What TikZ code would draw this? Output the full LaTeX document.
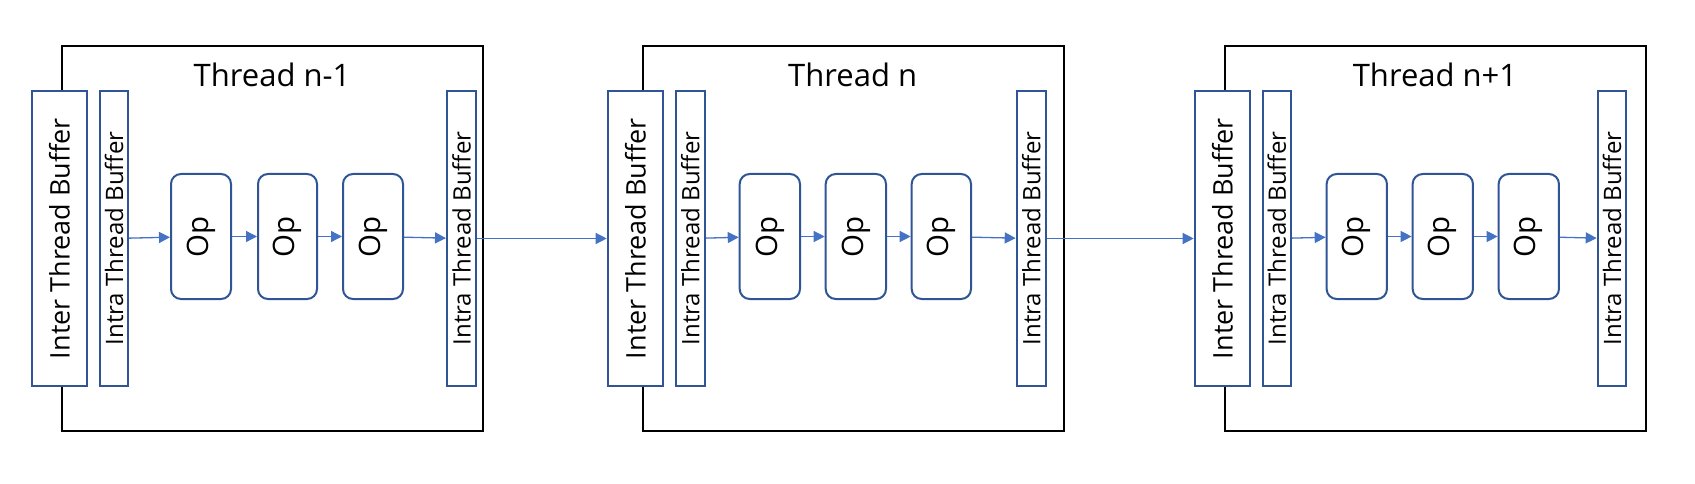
\documentclass[tikz,border=0pt]{standalone}
\usepackage{fontspec}
\setmainfont{Open Sans}
\usepackage{graphicx}
\usetikzlibrary{arrows.meta}
\definecolor{boxblue}{HTML}{2F5597}
\definecolor{arrblue}{HTML}{4472C4}
\tikzset{
  threadbox/.style={draw=black, line width=2pt, fill=none, inner sep=0pt, minimum height=385pt},
  interbuf/.style={draw=boxblue, line width=2pt, fill=white, inner sep=0pt, minimum height=295pt, font=\fontsize{27}{27}\selectfont},
  intrabuf/.style={draw=boxblue, line width=2pt, fill=white, inner sep=0pt, minimum height=295pt, font=\fontsize{24}{24}\selectfont},
  opbox/.style={draw=boxblue, line width=2pt, fill=white, rounded corners=10pt, inner sep=0pt, minimum height=125pt, font=\fontsize{29.5}{29.5}\selectfont},
  titletext/.style={anchor=base, inner sep=0pt, font=\fontsize{31}{31}\selectfont},
  flow/.style={draw=arrblue, line width=1.3pt, -{Triangle[length=11pt,width=11pt]}}
}
\begin{document}
\begin{tikzpicture}[x=1pt,y=-1pt]
\useasboundingbox (0,0) rectangle (1695,484);
% ---------- Thread n-1 ----------
\node[threadbox, minimum width=421pt] (ta) at (272.5,238.3) {};
\node[titletext] (tta) at (272,87) {Thread n-1};
\node[interbuf, minimum width=55pt] (ia) at (59.5,238.5) {\rotatebox{90}{Inter Thread Buffer}};
\node[intrabuf, minimum width=28pt] (la) at (114,238.5) {\rotatebox{90}{Intra Thread Buffer}};
\node[opbox, minimum width=60pt] (a1) at (201,236.5) {\rotatebox{90}{Op}};
\node[opbox, minimum width=59pt] (a2) at (287.5,236.5) {\rotatebox{90}{Op}};
\node[opbox, minimum width=60pt] (a3) at (373,236.5) {\rotatebox{90}{Op}};
\node[intrabuf, minimum width=29pt] (ra) at (461.5,238.5) {\rotatebox{90}{Intra Thread Buffer}};
% ---------- Thread n ----------
\node[threadbox, minimum width=421.3pt] (tb) at (853.35,238.3) {};
\node[titletext] (ttb) at (852.7,87) {Thread n};
\node[interbuf, minimum width=55.3pt] (ib) at (635.35,238.5) {\rotatebox{90}{Inter Thread Buffer}};
\node[intrabuf, minimum width=29.3pt] (lb) at (690.35,238.5) {\rotatebox{90}{Intra Thread Buffer}};
\node[opbox, minimum width=60.3pt] (b1) at (769.85,236.5) {\rotatebox{90}{Op}};
\node[opbox, minimum width=60.3pt] (b2) at (855.85,236.5) {\rotatebox{90}{Op}};
\node[opbox, minimum width=59.3pt] (b3) at (941.35,236.5) {\rotatebox{90}{Op}};
\node[intrabuf, minimum width=29.3pt] (rb) at (1031.35,238.5) {\rotatebox{90}{Intra Thread Buffer}};
% ---------- Thread n+1 ----------
\node[threadbox, minimum width=421.3pt] (tc) at (1435.35,238.3) {};
\node[titletext] (ttc) at (1435,87) {Thread n+1};
\node[interbuf, minimum width=55.6pt] (ic) at (1222.5,238.5) {\rotatebox{90}{Inter Thread Buffer}};
\node[intrabuf, minimum width=28.3pt] (lc) at (1276.8,238.5) {\rotatebox{90}{Intra Thread Buffer}};
\node[opbox, minimum width=60.3pt] (c1) at (1356.8,236.5) {\rotatebox{90}{Op}};
\node[opbox, minimum width=60.3pt] (c2) at (1442.8,236.5) {\rotatebox{90}{Op}};
\node[opbox, minimum width=60.3pt] (c3) at (1528.8,236.5) {\rotatebox{90}{Op}};
\node[intrabuf, minimum width=28.6pt] (rc) at (1612,238.5) {\rotatebox{90}{Intra Thread Buffer}};
% ---------- connectors ----------
\draw[flow] (la) -- (a1);
\draw[flow] (a1) -- (a2);
\draw[flow] (a2) -- (a3);
\draw[flow] (a3) -- (ra);
\draw[flow] (ra) -- (ib);
\draw[flow] (lb) -- (b1);
\draw[flow] (b1) -- (b2);
\draw[flow] (b2) -- (b3);
\draw[flow] (b3) -- (rb);
\draw[flow] (rb) -- (ic);
\draw[flow] (lc) -- (c1);
\draw[flow] (c1) -- (c2);
\draw[flow] (c2) -- (c3);
\draw[flow] (c3) -- (rc);
\end{tikzpicture}
\end{document}
